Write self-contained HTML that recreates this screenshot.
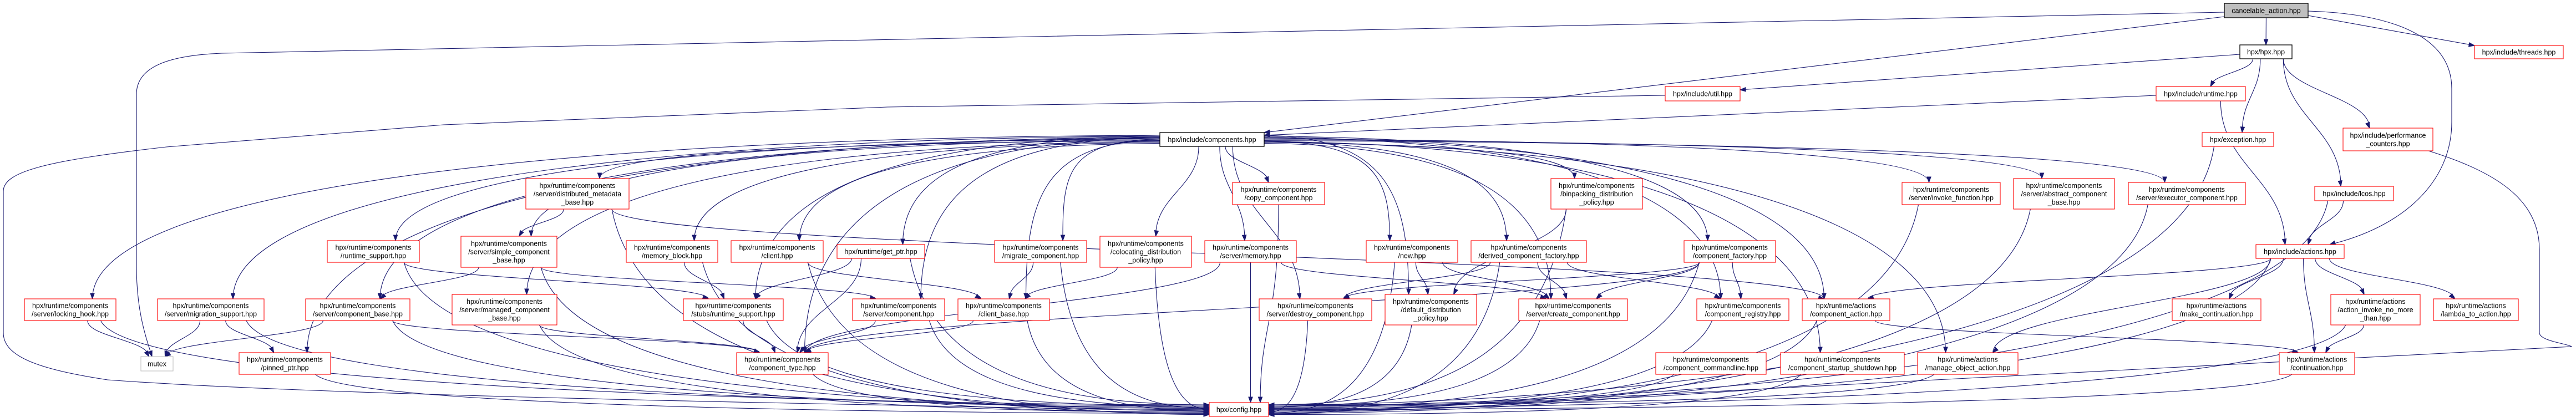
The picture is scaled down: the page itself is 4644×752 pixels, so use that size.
<!DOCTYPE html>
<html><head><meta charset="utf-8">
<style>
html,body{margin:0;padding:0;background:#fff;}
svg{display:block;}
text{font-family:"Liberation Sans",sans-serif;font-size:12.5px;fill:#000;}
</style></head>
<body>
<svg id="s" width="4644" height="752" viewBox="0 0 4644 752" xmlns="http://www.w3.org/2000/svg">
<g id="edges" fill="none" stroke="#191970" stroke-width="1.1"></g>
<g id="arrows" fill="#191970" stroke="#191970"></g>
<g id="nodes"></g>
</svg>
<div id="labels" style="display:none">
<span data-id="ca" data-b="4010,6,4161,32,g">cancelable_action.hpp</span>
<span data-id="hpx" data-b="4038,81,4132,106,k">hpx/hpx.hpp</span>
<span data-id="thr" data-b="4461,82,4621,106,r">hpx/include/threads.hpp</span>
<span data-id="util" data-b="3002,156,3137,182,r">hpx/include/util.hpp</span>
<span data-id="rt" data-b="3887,156,4048,182,r">hpx/include/runtime.hpp</span>
<span data-id="comp" data-b="2091,239,2279,264,k">hpx/include/components.hpp</span>
<span data-id="exc" data-b="3970,239,4099,264,r">hpx/exception.hpp</span>
<span data-id="perf" data-b="4224,231,4386,272,r">hpx/include/performance|_counters.hpp</span>
<span data-id="dmb" data-b="948,322,1134,377,r">hpx/runtime/components|/server/distributed_metadata|_base.hpp</span>
<span data-id="copy" data-b="2222,329,2388,369,r">hpx/runtime/components|/copy_component.hpp</span>
<span data-id="bin" data-b="2796,322,2961,377,r">hpx/runtime/components|/binpacking_distribution|_policy.hpp</span>
<span data-id="inv" data-b="3429,329,3606,369,r">hpx/runtime/components|/server/invoke_function.hpp</span>
<span data-id="abs" data-b="3630,322,3812,377,r">hpx/runtime/components|/server/abstract_component|_base.hpp</span>
<span data-id="exe" data-b="3837,329,4048,369,r">hpx/runtime/components|/server/executor_component.hpp</span>
<span data-id="lcos" data-b="4173,336,4315,362,r">hpx/include/lcos.hpp</span>
<span data-id="rts" data-b="590,434,756,473,r">hpx/runtime/components|/runtime_support.hpp</span>
<span data-id="scb" data-b="831,426,1004,482,r">hpx/runtime/components|/server/simple_component|_base.hpp</span>
<span data-id="mb" data-b="1129,434,1294,473,r">hpx/runtime/components|/memory_block.hpp</span>
<span data-id="cli" data-b="1318,434,1484,473,r">hpx/runtime/components|/client.hpp</span>
<span data-id="gp" data-b="1509,441,1667,466,r">hpx/runtime/get_ptr.hpp</span>
<span data-id="mig" data-b="1793,434,1959,473,r">hpx/runtime/components|/migrate_component.hpp</span>
<span data-id="col" data-b="1983,426,2148,482,r">hpx/runtime/components|/colocating_distribution|_policy.hpp</span>
<span data-id="smem" data-b="2172,434,2337,473,r">hpx/runtime/components|/server/memory.hpp</span>
<span data-id="new" data-b="2463,434,2628,473,r">hpx/runtime/components|/new.hpp</span>
<span data-id="dcf" data-b="2652,434,2860,473,r">hpx/runtime/components|/derived_component_factory.hpp</span>
<span data-id="cf" data-b="3036,434,3201,473,r">hpx/runtime/components|/component_factory.hpp</span>
<span data-id="act" data-b="4067,441,4226,466,r">hpx/include/actions.hpp</span>
<span data-id="lh" data-b="44,539,209,578,r">hpx/runtime/components|/server/locking_hook.hpp</span>
<span data-id="ms" data-b="284,539,476,578,r">hpx/runtime/components|/server/migration_support.hpp</span>
<span data-id="cb" data-b="551,539,739,578,r">hpx/runtime/components|/server/component_base.hpp</span>
<span data-id="mcb" data-b="815,531,1004,586,r">hpx/runtime/components|/server/managed_component|_base.hpp</span>
<span data-id="srts" data-b="1232,539,1412,578,r">hpx/runtime/components|/stubs/runtime_support.hpp</span>
<span data-id="scomp" data-b="1537,539,1703,578,r">hpx/runtime/components|/server/component.hpp</span>
<span data-id="cbase" data-b="1727,539,1892,578,r">hpx/runtime/components|/client_base.hpp</span>
<span data-id="dest" data-b="2270,539,2473,578,r">hpx/runtime/components|/server/destroy_component.hpp</span>
<span data-id="ddp" data-b="2497,531,2662,586,r">hpx/runtime/components|/default_distribution|_policy.hpp</span>
<span data-id="create" data-b="2738,539,2934,578,r">hpx/runtime/components|/server/create_component.hpp</span>
<span data-id="reg" data-b="3059,539,3225,578,r">hpx/runtime/components|/component_registry.hpp</span>
<span data-id="cact" data-b="3249,539,3407,578,r">hpx/runtime/actions|/component_action.hpp</span>
<span data-id="mkc" data-b="3916,539,4076,578,r">hpx/runtime/actions|/make_continuation.hpp</span>
<span data-id="ainv" data-b="4202,531,4363,586,r">hpx/runtime/actions|/action_invoke_no_more|_than.hpp</span>
<span data-id="l2a" data-b="4387,539,4540,578,r">hpx/runtime/actions|/lambda_to_action.hpp</span>
<span data-id="mutex" data-b="254,643,312,669,m">mutex</span>
<span data-id="pin" data-b="431,636,596,675,r">hpx/runtime/components|/pinned_ptr.hpp</span>
<span data-id="ctype" data-b="1328,636,1493,675,r">hpx/runtime/components|/component_type.hpp</span>
<span data-id="cmdl" data-b="2985,636,3184,675,r">hpx/runtime/components|/component_commandline.hpp</span>
<span data-id="css" data-b="3210,636,3433,675,r">hpx/runtime/components|/component_startup_shutdown.hpp</span>
<span data-id="moa" data-b="3457,636,3638,675,r">hpx/runtime/actions|/manage_object_action.hpp</span>
<span data-id="cont" data-b="4109,636,4245,675,r">hpx/runtime/actions|/continuation.hpp</span>
<span data-id="cfg" data-b="2180,726,2287,751,r">hpx/config.hpp</span>
</div>
<script>
(function(){
var NS="http://www.w3.org/2000/svg";
var svg=document.getElementById('s');
var G=document.getElementById('nodes'),E=document.getElementById('edges'),AR=document.getElementById('arrows');
var B={};
var spans=document.querySelectorAll('#labels span');
for(var i=0;i<spans.length;i++){
 var sp=spans[i],id=sp.getAttribute('data-id'),p=sp.getAttribute('data-b').split(',');
 var x1=+p[0],y1=+p[1],x2=+p[2],y2=+p[3],st=p[4];
 B[id]={x1:x1,y1:y1,x2:x2,y2:y2,cx:(x1+x2)/2,cy:(y1+y2)/2,w:x2-x1};
 var r=document.createElementNS(NS,'rect');
 r.setAttribute('x',x1);r.setAttribute('y',y1);r.setAttribute('width',x2-x1);r.setAttribute('height',y2-y1);
 r.setAttribute('fill',st=='g'?'#bfbfbf':'#fff');
 r.setAttribute('stroke',st=='r'?'#ff0000':(st=='m'?'#bfbfbf':'#000'));
 r.setAttribute('stroke-width',st=='k'||st=='g'?1.3:1.1);
 G.appendChild(r);
 var lines=sp.textContent.split('|'),n=lines.length,cy=(y1+y2)/2;
 for(var j=0;j<n;j++){
  var t=document.createElementNS(NS,'text');
  t.setAttribute('x',(x1+x2)/2);t.setAttribute('y',cy-(n-1)*7.5+j*15+4.5);
  t.setAttribute('text-anchor','middle');t.textContent=lines[j];G.appendChild(t);
 }
}
function path(d){var p=document.createElementNS(NS,'path');p.setAttribute('d',d);E.appendChild(p);}
function arrow(px,py,tx,ty){
 var dx=tx-px,dy=ty-py,l=Math.sqrt(dx*dx+dy*dy)||1;dx/=l;dy/=l;
 var bx=tx-dx*10,by=ty-dy*10,nx=-dy*3.6,ny=dx*3.6;
 var p=document.createElementNS(NS,'polygon');
 p.setAttribute('points',tx+','+ty+' '+(bx+nx)+','+(by+ny)+' '+(bx-nx)+','+(by-ny));AR.appendChild(p);
}
var cfgL=0,cfgR=0,compI=0;
function edge(a,b){
 var A=B[a],T=B[b];
 if(b=='cfg'){
  var C=B.cfg;
  if(A.cx<C.x1-40){
   var sx=A.cx+Math.min(A.w/3,(C.cx-A.cx)*0.1),sy=A.y2,tx=C.x1,ty=730+(cfgL++%9)*2.2;
   var d=tx-sx;
   var c1x=sx+Math.min(60,d*0.08),c1y=sy+(ty-sy)*0.85,c2x=tx-Math.min(500,d*0.45);
   path('M'+sx+','+sy+' C'+c1x+','+c1y+' '+c2x+','+ty+' '+tx+','+ty);arrow(c2x,ty,tx,ty);
  }else if(A.cx>C.x2+40){
   var sx=A.cx-Math.min(A.w/3,(A.cx-C.cx)*0.1),sy=A.y2,tx=C.x2,ty=730+(cfgR++%9)*2.2;
   var d=sx-tx;
   var c1x=sx-Math.min(60,d*0.08),c1y=sy+(ty-sy)*0.85,c2x=tx+Math.min(500,d*0.45);
   path('M'+sx+','+sy+' C'+c1x+','+c1y+' '+c2x+','+ty+' '+tx+','+ty);arrow(c2x,ty,tx,ty);
  }else{
   var sx=A.cx,sy=A.y2,tx=Math.max(C.x1+15,Math.min(C.x2-15,A.cx)),ty=C.y1;
   var dy=ty-sy;
   path('M'+sx+','+sy+' C'+sx+','+(sy+dy*0.6)+' '+tx+','+(ty-dy*0.4)+' '+tx+','+ty);arrow(tx,ty-dy*0.4,tx,ty);
  }
  return;
 }
 var dx=T.cx-A.cx;
 if(a=='comp'&&Math.abs(dx)>300){
  var k=(compI++%10);
  var sx=dx<0?A.x1:A.x2,sy=A.y1+5+k*1.6,tx=T.cx+(dx<0?1:-1)*Math.min(T.w*0.25,40),ty=T.y1;
  var c1x=sx+dx*0.55,c2y=sy+(ty-sy)*0.35;
  path('M'+sx+','+sy+' C'+c1x+','+(sy+4)+' '+tx+','+c2y+' '+tx+','+ty);arrow(tx,c2y,tx,ty);
  return;
 }
 var sx=A.cx+Math.max(-A.w/3,Math.min(A.w/3,dx*0.2)),sy=A.y2,tx=T.cx-Math.max(-T.w/4,Math.min(T.w/4,dx*0.15)),ty=T.y1;
 var dy=ty-sy;
 var c1y=sy+dy*0.45,c2y=ty-dy*0.45;
 path('M'+sx+','+sy+' C'+sx+','+c1y+' '+tx+','+c2y+' '+tx+','+ty);arrow(tx+(sx-tx)*0.15,c2y,tx,ty);
}
// custom edges
path('M4010,22 L400,96 C300,100 246,122 246,170 L246,480 C246,560 262,605 274,643');arrow(268,625,274,643);
path('M4010,30 L2279,239');arrow(2289,238,2279,239);
path('M3887,172 L2279,244');arrow(2289,243.6,2279,244);
path('M4038,98 L3137,162');arrow(3147,161.3,3137,162);
path('M3002,172 L1600,193 L800,225 L300,265 C80,290 6,310 6,345 L6,600 C6,640 60,665 194,685 C600,715 1500,728 2180,742');arrow(2170,741.6,2180,742);
path('M4161,20 C4300,24 4420,60 4420,160 L4420,220 C4420,330 4330,410 4200,441');arrow(4212,437,4200,441);
path('M4378,272 C4500,310 4578,360 4578,450 L4578,600 C4578,615 4630,620 4636,625 L2287,748');arrow(2297,747.5,2287,748);
path('M4161,28 L4461,82');arrow(4451,80.5,4461,82);
var L=[
['ca','hpx'],['hpx','rt'],['hpx','exc'],['hpx','lcos'],['hpx','perf'],
['rt','act'],['exc','cfg'],['lcos','act'],['lcos','cfg'],
['act','cact'],['act','moa'],['act','mkc'],['act','cont'],['act','ainv'],['act','l2a'],['act','cfg'],
['ainv','cont'],['ainv','cfg'],['cont','cfg'],['cact','cont'],['cact','cfg'],
['comp','lh'],['comp','ms'],['comp','pin'],['comp','cb'],['comp','rts'],['comp','scb'],['comp','dmb'],['comp','mcb'],
['comp','mb'],['comp','cli'],['comp','gp'],['comp','srts'],['comp','scomp'],['comp','ctype'],['comp','mig'],['comp','cbase'],
['comp','col'],['comp','copy'],['comp','smem'],['comp','dest'],['comp','new'],['comp','dcf'],['comp','bin'],['comp','create'],
['comp','ddp'],['comp','cf'],['comp','reg'],['comp','cact'],['comp','inv'],['comp','abs'],['comp','exe'],['comp','css'],['comp','moa'],
['lh','mutex'],['lh','cfg'],['ms','mutex'],['ms','pin'],['ms','cfg'],['cb','mutex'],['cb','ctype'],['cb','cfg'],
['rts','srts'],['rts','cfg'],['scb','cb'],['scb','scomp'],['scb','cfg'],['dmb','scb'],['dmb','cact'],['dmb','cfg'],
['mcb','ctype'],['mcb','cfg'],['mb','srts'],['mb','cfg'],['cli','cbase'],['cli','cfg'],['gp','srts'],['gp','ctype'],['gp','cfg'],
['srts','ctype'],['srts','cfg'],['scomp','ctype'],['scomp','cfg'],['mig','cbase'],['mig','cfg'],['col','cbase'],['col','cfg'],
['copy','cfg'],['smem','ctype'],['smem','create'],['smem','cfg'],['cbase','ctype'],['cbase','cfg'],['dest','cfg'],
['new','ddp'],['new','create'],['new','cfg'],['dcf','dest'],['dcf','create'],['dcf','reg'],['dcf','cfg'],
['bin','ddp'],['bin','cfg'],['create','cfg'],['ddp','cfg'],['cf','create'],['cf','reg'],['cf','dest'],['cf','ctype'],['cf','cfg'],
['reg','cfg'],['inv','cfg'],['abs','cfg'],['exe','cfg'],['css','cfg'],['moa','cfg'],['cmdl','cfg'],['ctype','cfg'],['pin','cfg']
];
for(var i=0;i<L.length;i++)edge(L[i][0],L[i][1]);
})();
</script>
</body></html>
